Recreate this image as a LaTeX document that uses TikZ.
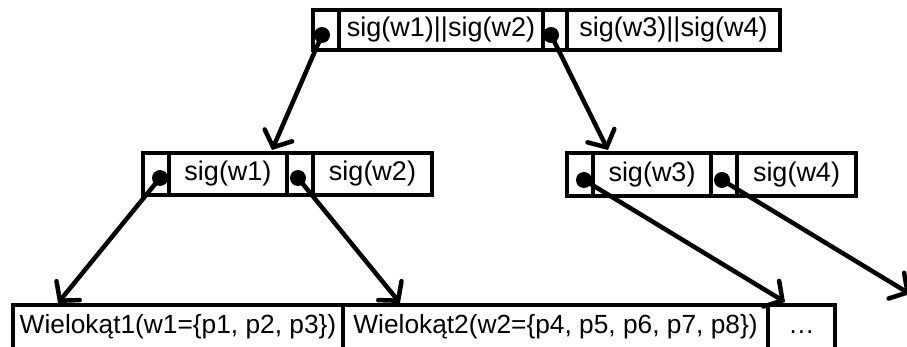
\documentclass[tikz,border=0pt]{standalone}
\usepackage{fontspec}
\setmainfont{Liberation Sans}
\usetikzlibrary{arrows.meta}
\tikzset{
  cell/.style={draw=black, line width=4.5pt, inner sep=0pt,
    font=\fontsize{27}{30}\selectfont},
  leaf/.style={cell, font=\fontsize{26.3}{30}\selectfont},
  dot/.style={circle, fill=black, inner sep=0pt, minimum size=16pt},
  ptr/.style={line width=4.5pt, line cap=round,
    -{Straight Barb[length=13pt,width=30pt,line cap=round]}}
}
\begin{document}
\begin{tikzpicture}[x=1pt,y=-1pt]
\useasboundingbox (0,0) rectangle (907,347);
\fill[white] (0,0) rectangle (907,347);
% top node
\node[cell, minimum width=26pt, minimum height=40pt] (tp1) at (326,30) {};
\node[cell, minimum width=204pt, minimum height=40pt] (t1) at (441,30) {sig(w1)||sig(w2)};
\node[cell, minimum width=24pt, minimum height=40pt] (tp2) at (555,30) {};
\node[cell, minimum width=213pt, minimum height=40pt] (t2) at (673.5,30) {sig(w3)||sig(w4)};
% middle left
\node[cell, minimum width=26pt, minimum height=42pt] (lp1) at (156,174) {};
\node[cell, minimum width=118pt, minimum height=42pt] (l1) at (228,174) {sig(w1)};
\node[cell, minimum width=26pt, minimum height=42pt] (lp2) at (300,174) {};
\node[cell, minimum width=119pt, minimum height=42pt] (l2) at (372.5,174) {sig(w2)};
% middle right
\node[cell, minimum width=26pt, minimum height=43pt] (rp1) at (580,174.5) {};
\node[cell, minimum width=118pt, minimum height=43pt] (r1) at (652,174.5) {sig(w3)};
\node[cell, minimum width=26pt, minimum height=43pt] (rp2) at (724,174.5) {};
\node[cell, minimum width=119pt, minimum height=43pt] (r2) at (796.5,174.5) {sig(w4)};
% bottom leaves
\node[leaf, minimum width=330pt, minimum height=44pt] (b1) at (178,327) {Wielokąt1(w1=\{p1, p2, p3\})};
\node[leaf, minimum width=425pt, minimum height=44pt] (b2) at (555.5,327) {Wielokąt2(w2=\{p4, p5, p6, p7, p8\})};
\node[leaf, minimum width=67pt, minimum height=44pt] (b3) at (801.5,327) {\vphantom{(\{}…};
% dots
\node[dot] (d1) at (322,35) {};
\node[dot] (d2) at (551,35) {};
\node[dot] (d3) at (160,178) {};
\node[dot] (d4) at (298,178) {};
\node[dot] (d5) at (584,180) {};
\node[dot] (d6) at (722,180) {};
% arrow ends
\coordinate (e1) at (272,150);
\coordinate (e2) at (608,150);
\coordinate (e3) at (58,303);
\coordinate (e4) at (400,303);
\coordinate (e5) at (785,302);
\coordinate (e6) at (910,294);
\draw[ptr] (d1.center) -- (e1);
\draw[ptr] (d2.center) -- (e2);
\draw[ptr] (d3.center) -- (e3);
\draw[ptr] (d4.center) -- (e4);
\draw[ptr] (d5.center) -- (e5);
\draw[ptr] (d6.center) -- (e6);
\end{tikzpicture}
\end{document}
